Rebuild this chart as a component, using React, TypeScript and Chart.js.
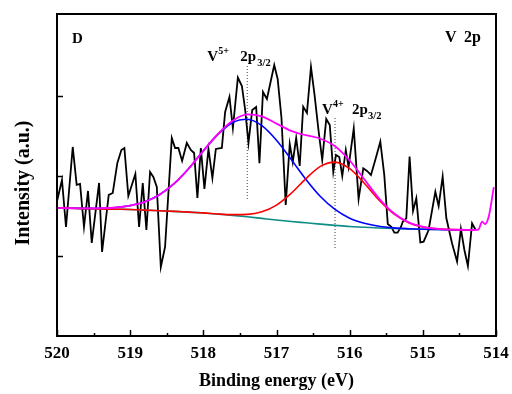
import React, { useEffect, useRef } from "react";
import { Chart, registerables } from "chart.js";

Chart.register(...registerables);

// ---------- data ----------
const blackEnergy = [
  519.996, 519.932, 519.877, 519.785, 519.731, 519.685, 519.631, 519.576, 519.525, 519.425,
  519.384, 519.293, 519.238, 519.175, 519.12, 519.079, 519.025, 518.929, 518.878, 518.828,
  518.778, 518.728, 518.683, 518.636, 518.581, 518.523, 518.431, 518.386, 518.341, 518.29,
  518.226, 518.171, 518.126, 518.081, 518.034, 517.985, 517.93, 517.876, 517.829, 517.747,
  517.702, 517.643, 517.596, 517.528, 517.473, 517.428, 517.383, 517.332, 517.278, 517.233,
  517.185, 517.131, 517.031, 516.984, 516.932, 516.874, 516.819, 516.778, 516.731, 516.683,
  516.635, 516.584, 516.529, 516.48, 516.425, 516.375, 516.32, 516.272, 516.224, 516.187,
  516.142, 516.101, 516.053, 516.015, 515.944, 515.878, 515.814, 515.763, 515.709, 515.65,
  515.581, 515.527, 515.479, 515.431, 515.39, 515.345, 515.298, 515.274, 515.226, 515.181,
  515.134, 515.089, 515.034, 514.989, 514.921, 514.829, 514.784, 514.729, 514.679, 514.601,
  514.532, 514.48, 514.432, 514.384, 514.327, 514.282,
];
const blackIntensity = [
  1.7, 1.95, 1.363, 2.363, 1.888, 1.9, 1.363, 1.813, 1.163, 1.913,
  1.05, 1.763, 1.788, 2.163, 2.325, 2.35, 1.75, 2.025, 1.363, 1.913,
  1.325, 2.05, 1.988, 1.863, 0.863, 1.113, 2.475, 2.35, 2.35, 2.188,
  2.413, 2.325, 2.288, 1.725, 2.35, 1.838, 2.338, 1.975, 2.338, 2.35,
  2.8, 2.988, 2.6, 3.231, 3.125, 2.825, 2.413, 2.825, 2.863, 2.159,
  3.05, 2.963, 3.388, 3.213, 2.725, 1.638, 2.4, 2.175, 2.475, 2.125,
  2.866, 2.788, 3.363, 3.013, 2.563, 2.2, 2.713, 2.638, 2.05, 2.263,
  2.238, 2.0, 2.325, 2.113, 2.596, 1.713, 2.096, 2.063, 2.013, 2.2,
  2.429, 2.013, 1.4, 1.366, 1.291, 1.291, 1.366, 1.429, 1.471, 2.244,
  1.563, 1.721, 1.169, 1.179, 1.325, 1.804, 1.625, 1.994, 1.475, 1.159,
  0.931, 1.338, 1.075, 0.875, 1.409, 1.331,
];

const fitEnergy = [
  520.0, 519.8, 519.6, 519.4, 519.2, 519.0, 518.8, 518.6, 518.4, 518.2,
  518.0, 517.8, 517.6, 517.4, 517.2, 517.0, 516.8, 516.6, 516.4, 516.2,
  516.0, 515.8, 515.6, 515.4, 515.2, 515.0, 514.8, 514.6, 514.4, 514.3,
];
const baseline = [
  1.6, 1.596, 1.592, 1.589, 1.585, 1.581, 1.574, 1.566, 1.558, 1.548,
  1.538, 1.523, 1.508, 1.49, 1.47, 1.45, 1.432, 1.415, 1.398, 1.383,
  1.369, 1.36, 1.35, 1.343, 1.338, 1.334, 1.331, 1.328, 1.326, 1.325,
];
const v5Fit = [
  1.6, 1.597, 1.595, 1.597, 1.606, 1.63, 1.677, 1.765, 1.904, 2.093,
  2.314, 2.52, 2.668, 2.71, 2.63, 2.447, 2.208, 1.96, 1.744, 1.582,
  1.472, 1.409, 1.371, 1.351, 1.341, 1.335, 1.331, 1.328, 1.326, 1.325,
];
const v4Fit = [
  1.6, 1.596, 1.592, 1.589, 1.585, 1.581, 1.574, 1.566, 1.558, 1.548,
  1.539, 1.525, 1.517, 1.52, 1.552, 1.636, 1.782, 1.965, 2.12, 2.173,
  2.091, 1.91, 1.7, 1.529, 1.42, 1.364, 1.34, 1.33, 1.327, 1.325,
];
const envelopeFit = [
  1.6, 1.597, 1.595, 1.597, 1.606, 1.63, 1.677, 1.765, 1.904, 2.093,
  2.315, 2.525, 2.69, 2.77, 2.745, 2.655, 2.565, 2.51, 2.466, 2.372,
  2.194, 1.959, 1.721, 1.537, 1.423, 1.365, 1.34, 1.33, 1.327, 1.325,
];
const envelopeTailEnergy = [514.24, 514.19, 514.15, 514.1, 514.03];
const envelopeTailIntensity = [1.33, 1.43, 1.4, 1.49, 1.86];

const xTickValues = [520, 519.5, 519, 518.5, 518, 517.5, 517, 516.5, 516, 515.5, 515, 514.5, 514];
const xTickLabels = ["520", "", "519", "", "518", "", "517", "", "516", "", "515", "", "514"];
const yTickValues = [1, 2, 3];

const peakEnergy = [517.4, 516.2];
const peakLineTop = [3.375, 2.725];
const peakLineBottom = [1.7, 1.075];
const peakIon = ["5+", "4+"];

const xTitle = "Binding energy (eV)";
const yTitle = "Intensity (a.u.)";
const panelLetter = "D";
const regionLabel = ["V", "2p"];

const pts = (xs: number[], ys: number[]) => xs.map((x, i) => ({ x, y: ys[i] }));

const FONT = '"Liberation Serif", "Times New Roman", serif';

const decorPlugin = {
  id: "decor",
  afterDraw(chart: any) {
    const { ctx, chartArea, scales } = chart;
    const xs = scales.x;
    const ys = scales.y;
    const { left, right, top, bottom } = chartArea;
    ctx.save();
    ctx.fillStyle = "#000";
    ctx.strokeStyle = "#000";

    // frame
    ctx.lineWidth = 2;
    ctx.strokeRect(left, top, right - left, bottom - top);

    // x ticks (inward)
    ctx.lineWidth = 1.5;
    xTickValues.forEach((v, i) => {
      const px = Math.round(xs.getPixelForValue(v)) + 0.5;
      const len = xTickLabels[i] ? 6 : 3;
      ctx.beginPath();
      ctx.moveTo(px, bottom);
      ctx.lineTo(px, bottom - len);
      ctx.stroke();
    });
    // y ticks (inward)
    yTickValues.forEach((v) => {
      const py = Math.round(ys.getPixelForValue(v)) + 0.5;
      ctx.beginPath();
      ctx.moveTo(left, py);
      ctx.lineTo(left + 6, py);
      ctx.stroke();
    });

    // tick labels
    ctx.font = `bold 17px ${FONT}`;
    ctx.textAlign = "center";
    ctx.textBaseline = "alphabetic";
    xTickValues.forEach((v, i) => {
      if (!xTickLabels[i]) return;
      ctx.fillText(xTickLabels[i], xs.getPixelForValue(v), bottom + 22);
    });

    // axis titles
    ctx.font = `bold 18px ${FONT}`;
    ctx.fillText(xTitle, (left + right) / 2, bottom + 50);
    ctx.save();
    ctx.translate(29, 183);
    ctx.rotate(-Math.PI / 2);
    ctx.font = `bold 20px ${FONT}`;
    ctx.fillText(yTitle, 0, 0);
    ctx.restore();

    // panel labels
    ctx.textAlign = "left";
    ctx.font = `bold 15px ${FONT}`;
    ctx.fillText(panelLetter, left + 15, top + 29);
    ctx.font = `bold 16px ${FONT}`;
    ctx.fillText(regionLabel[0], right - 51, top + 28);
    ctx.fillText(regionLabel[1], right - 32, top + 28);

    // peak labels
    const layouts = [
      { v: -40, sup: -29, main: -7, sub: 10, base: 61 },
      { v: -13, sup: -2, main: 17, sub: 33, base: 114 },
    ];
    peakEnergy.forEach((e, i) => {
      const px = xs.getPixelForValue(e);
      const L = layouts[i];
      ctx.font = `bold 15px ${FONT}`;
      ctx.fillText("V", px + L.v, L.base);
      ctx.fillText("2p", px + L.main, L.base);
      ctx.font = `bold 10px ${FONT}`;
      ctx.fillText(peakIon[i], px + L.sup, L.base - 7);
      ctx.font = `bold 10.5px ${FONT}`;
      ctx.fillText("3/2", px + L.sub, L.base + 5);
    });
    ctx.restore();
  },
};

export default function App() {
  const ref = useRef<HTMLCanvasElement | null>(null);

  useEffect(() => {
    if (!ref.current) return;
    const line = (data: any, color: string, width: number, order: number, extra: any = {}) => ({
      data,
      borderColor: color,
      backgroundColor: color,
      borderWidth: width,
      pointRadius: 0,
      fill: false,
      order,
      ...extra,
    });
    const smooth = { cubicInterpolationMode: "monotone" };
    const datasets: any[] = [
      line(pts(blackEnergy, blackIntensity), "#000000", 1.8, 5, { tension: 0 }),
      line(pts(fitEnergy, baseline), "#0c8c84", 1.6, 4, smooth),
      line(pts(fitEnergy, v5Fit), "#0000ff", 1.6, 3, smooth),
      line(pts(fitEnergy, v4Fit), "#ff0000", 1.6, 2, smooth),
      line(
        pts([...fitEnergy, ...envelopeTailEnergy], [...envelopeFit, ...envelopeTailIntensity]),
        "#ff00ff",
        1.8,
        1,
        smooth
      ),
    ];
    peakEnergy.forEach((e, i) => {
      datasets.push(
        line(
          [
            { x: e, y: peakLineTop[i] },
            { x: e, y: peakLineBottom[i] },
          ],
          "#444444",
          1,
          6,
          { borderDash: [1, 2] }
        )
      );
    });

    const chart = new Chart(ref.current, {
      type: "line",
      data: { datasets },
      options: {
        animation: false,
        responsive: false,
        devicePixelRatio: 1,
        layout: { padding: { left: 57, right: 16, top: 14, bottom: 58 } },
        scales: {
          x: { type: "linear", min: 514, max: 520, reverse: true, display: false },
          y: { type: "linear", min: 0, max: 4.025, display: false },
        },
        plugins: { legend: { display: false }, tooltip: { enabled: false } },
        elements: { point: { radius: 0 } },
      },
      plugins: [decorPlugin],
    } as any);
    return () => chart.destroy();
  }, []);

  return (
    <div style={{ position: "fixed", left: 0, top: 0, width: 512, height: 394, background: "#fff" }}>
      <canvas ref={ref} width={512} height={394} style={{ width: 512, height: 394, display: "block" }} />
    </div>
  );
}
